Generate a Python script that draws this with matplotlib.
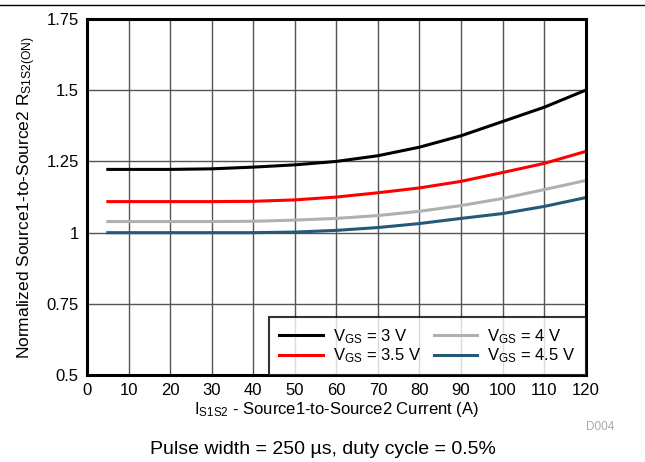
import matplotlib.pyplot as plt
from matplotlib.lines import Line2D

plt.rcParams['font.family'] = ['Liberation Sans', 'DejaVu Sans']

current = [5, 10, 20, 30, 40, 50, 60, 70, 80, 90, 100, 110, 120]
r_3v = [1.222, 1.222, 1.222, 1.224, 1.23, 1.238, 1.25, 1.27, 1.30, 1.34, 1.39, 1.44, 1.50]
r_35v = [1.109, 1.109, 1.109, 1.109, 1.11, 1.115, 1.125, 1.14, 1.157, 1.18, 1.211, 1.243, 1.285]
r_4v = [1.039, 1.039, 1.039, 1.039, 1.04, 1.044, 1.05, 1.06, 1.075, 1.095, 1.12, 1.151, 1.183]
r_45v = [1.0, 1.0, 1.0, 1.0, 1.0, 1.002, 1.008, 1.018, 1.032, 1.05, 1.067, 1.092, 1.123]

series = [
    (r_3v, 'black', '$\\mathregular{V_{GS}}$ = 3 V'),
    (r_35v, '#ff0000', '$\\mathregular{V_{GS}}$ = 3.5 V'),
    (r_4v, '#b0b0b0', '$\\mathregular{V_{GS}}$ = 4 V'),
    (r_45v, '#245a78', '$\\mathregular{V_{GS}}$ = 4.5 V'),
]

fig = plt.figure(figsize=(6.45, 4.62), dpi=100)
ax = fig.add_axes([0.135, 0.188, 0.773, 0.771])

for ys, c, lab in series:
    ax.plot(current, ys, color=c, lw=2.2, label=lab)

ax.set_xlim(0, 120)
ax.set_ylim(0.5, 1.75)
ax.set_xticks(range(0, 121, 10))
ax.set_yticks([0.5, 0.75, 1, 1.25, 1.5, 1.75])
ax.set_yticklabels(['0.5', '0.75', '1', '1.25', '1.5', '1.75'])
ax.tick_params(length=0, labelsize=12, pad=6)
ax.grid(True, color='#555555', lw=1)
ax.set_axisbelow(True)
for s in ax.spines.values():
    s.set_linewidth(2.2)

ax.set_xlabel('$\\mathregular{I_{S1S2}}$ - Source1-to-Source2 Current (A)', fontsize=12, labelpad=1)
ax.set_ylabel('Normalized Source1-to-Source2 $\\mathregular{R_{S1S2(ON)}}$', fontsize=12.5, labelpad=6)

# legend order: col1 3V,3.5V ; col2 4V,4.5V
leg = ax.legend(ncol=2, loc='lower right', fontsize=12, frameon=True, fancybox=False,
                borderaxespad=0, handlelength=2.6, columnspacing=0.8,
                handletextpad=0.6, labelspacing=0.05, borderpad=0.6)
leg.get_frame().set_edgecolor('black')
leg.get_frame().set_linewidth(1.5)

fig.text(0.953, 0.069, 'D004', fontsize=8.5, color='#aaaaaa', ha='right')
fig.text(0.5, 0.018, 'Pulse width = 250 \u00b5s, duty cycle = 0.5%', fontsize=14, ha='center')
fig.add_artist(Line2D([0, 1], [0.99, 0.99], color='black', lw=1, transform=fig.transFigure))

fig.savefig('out.png', dpi=100)
